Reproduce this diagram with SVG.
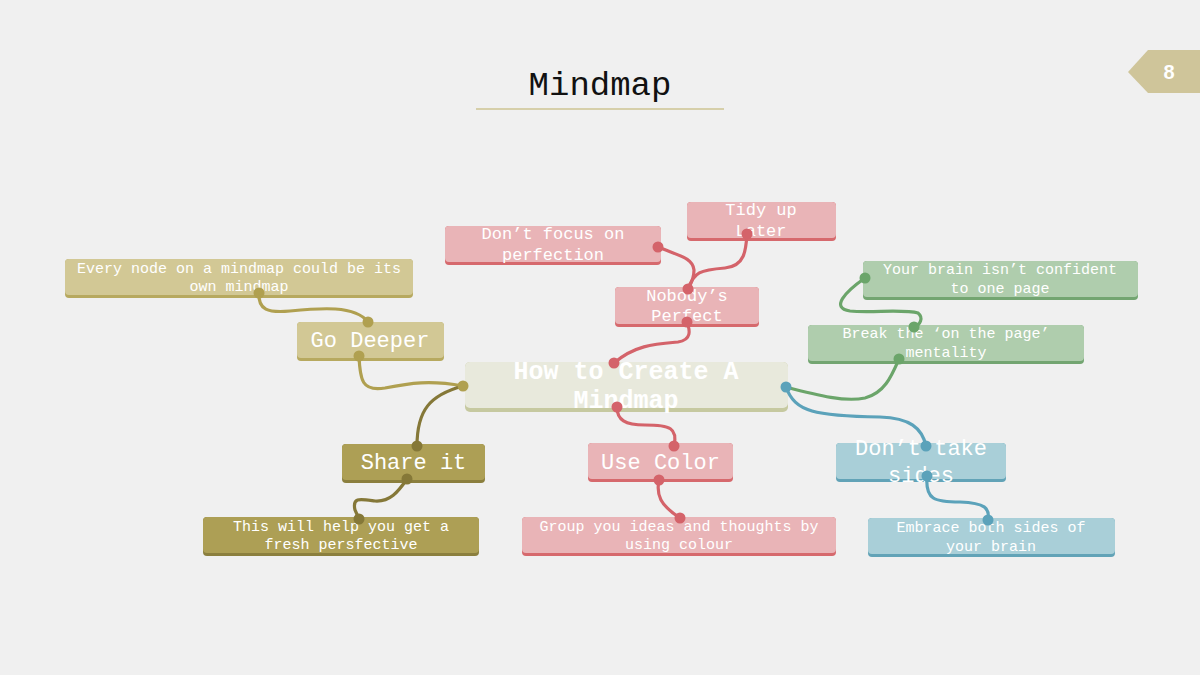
<svg xmlns="http://www.w3.org/2000/svg" width="1200" height="675" viewBox="0 0 1200 675">
<style>
text{font-family:"Liberation Mono","DejaVu Sans Mono",monospace;fill:#ffffff;text-anchor:middle}
.s{font-size:15px}
.m{font-size:17px}
.l{font-size:22px}
.c{font-size:25px;font-weight:bold}
.pinkB{fill:#d6696d}.pinkF{fill:#e9b4b7}
.oliveB{fill:#b7a95f}.oliveF{fill:#d2c895}
.darkB{fill:#8b7f3e}.darkF{fill:#ad9f55}
.greenB{fill:#73a571}.greenF{fill:#afcdad}
.blueB{fill:#62a3b7}.blueF{fill:#a9cfd8}
.centB{fill:#c6c9a0}.centF{fill:#e8e9dc}
.ln{fill:none;stroke-width:3.2;stroke-linecap:round}
.red{stroke:#d4636a}.redd{fill:#d4636a}
.ol{stroke:#b0a050}.old{fill:#b0a050}
.dk{stroke:#857838}.dkd{fill:#857838}
.gr{stroke:#6ba56a}.grd{fill:#6ba56a}
.bl{stroke:#5ba2ba}.bld{fill:#5ba2ba}
</style>
<rect x="0" y="0" width="1200" height="675" fill="#f0f0f0"/>
<g id="title">
<text x="600" y="95" style="font-size:34px;fill:#111111">Mindmap</text>
<line x1="476" y1="109" x2="724" y2="109" stroke="#d6cfaa" stroke-width="2"/>
</g>
<g id="page-number">
<polygon points="1148,50 1200,50 1200,93 1148,93 1128,72" fill="#cfc59a"/>
<text x="1169" y="79" style="font-family:'Liberation Sans',Arial,sans-serif;font-size:20px;font-weight:bold">8</text>
</g>

<g id="node-center">
<rect x="465" y="362" width="323" height="50" rx="5" class="centB"/>
<rect x="465" y="362" width="323" height="46" rx="5" class="centF"/>
<text class="c" x="626" y="379">How to Create A</text>
<text class="c" x="626" y="408">Mindmap</text>
</g>
<g id="node-tidy">
<rect x="687" y="202" width="149" height="39" rx="4" class="pinkB"/>
<rect x="687" y="202" width="149" height="36" rx="4" class="pinkF"/>
<text class="m" x="761" y="215">Tidy up</text>
<text class="m" x="761" y="236">Later</text>
</g>
<g id="node-focus">
<rect x="445" y="226" width="216" height="39" rx="4" class="pinkB"/>
<rect x="445" y="226" width="216" height="36" rx="4" class="pinkF"/>
<text class="m" x="553" y="239">Don’t focus on</text>
<text class="m" x="553" y="260">perfection</text>
</g>
<g id="node-nobody">
<rect x="615" y="287" width="144" height="40" rx="4" class="pinkB"/>
<rect x="615" y="287" width="144" height="37" rx="4" class="pinkF"/>
<text class="m" x="687" y="301">Nobody’s</text>
<text class="m" x="687" y="321">Perfect</text>
</g>
<g id="node-usecolor">
<rect x="588" y="443" width="145" height="39" rx="4" class="pinkB"/>
<rect x="588" y="443" width="145" height="36" rx="4" class="pinkF"/>
<text class="l" x="660.5" y="469">Use Color</text>
</g>
<g id="node-group">
<rect x="522" y="517" width="314" height="39" rx="4" class="pinkB"/>
<rect x="522" y="517" width="314" height="36" rx="4" class="pinkF"/>
<text class="s" x="679" y="531">Group you ideas and thoughts by</text>
<text class="s" x="679" y="549">using colour</text>
</g>
<g id="node-godeeper">
<rect x="297" y="322" width="147" height="39" rx="4" class="oliveB"/>
<rect x="297" y="322" width="147" height="36" rx="4" class="oliveF"/>
<text class="l" x="370" y="347">Go Deeper</text>
</g>
<g id="node-everynode">
<rect x="65" y="259" width="348" height="39" rx="4" class="oliveB"/>
<rect x="65" y="259" width="348" height="36" rx="4" class="oliveF"/>
<text class="s" x="239" y="273">Every node on a mindmap could be its</text>
<text class="s" x="239" y="291">own mindmap</text>
</g>
<g id="node-share">
<rect x="342" y="444" width="143" height="39" rx="4" class="darkB"/>
<rect x="342" y="444" width="143" height="36" rx="4" class="darkF"/>
<text class="l" x="413.5" y="469">Share it</text>
</g>
<g id="node-thiswill">
<rect x="203" y="517" width="276" height="39" rx="4" class="darkB"/>
<rect x="203" y="517" width="276" height="36" rx="4" class="darkF"/>
<text class="s" x="341" y="531">This will help you get a</text>
<text class="s" x="341" y="549">fresh persfective</text>
</g>
<g id="node-yourbrain">
<rect x="863" y="261" width="275" height="39" rx="4" class="greenB"/>
<rect x="863" y="261" width="275" height="36" rx="4" class="greenF"/>
<text class="s" x="1000" y="274">Your brain isn’t confident</text>
<text class="s" x="1000" y="293">to one page</text>
</g>
<g id="node-break">
<rect x="808" y="325" width="276" height="39" rx="4" class="greenB"/>
<rect x="808" y="325" width="276" height="36" rx="4" class="greenF"/>
<text class="s" x="946" y="338">Break the ‘on the page’</text>
<text class="s" x="946" y="357">mentality</text>
</g>
<g id="node-donttake">
<rect x="836" y="443" width="170" height="39" rx="4" class="blueB"/>
<rect x="836" y="443" width="170" height="36" rx="4" class="blueF"/>
<text class="l" x="921" y="455">Don’t take</text>
<text class="l" x="921" y="482">sides</text>
</g>
<g id="node-embrace">
<rect x="868" y="518" width="247" height="39" rx="4" class="blueB"/>
<rect x="868" y="518" width="247" height="36" rx="4" class="blueF"/>
<text class="s" x="991" y="532">Embrace both sides of</text>
<text class="s" x="991" y="551">your brain</text>
</g>

<g id="connectors">
<path class="ln red" d="M614,363 C635,345 655,344 678,342 C692,340 690,330 687,322"/>
<circle class="redd" cx="614" cy="363" r="5.5"/><circle class="redd" cx="687" cy="322" r="5.5"/>
<path class="ln red" d="M688,289 C694,272 700,270 725,268 C745,266 746,250 747,234"/>
<circle class="redd" cx="688" cy="289" r="5.5"/><circle class="redd" cx="747" cy="234" r="5.5"/>
<path class="ln red" d="M658,247 C680,256 693,258 694,270 C694,280 690,285 688,289"/>
<circle class="redd" cx="658" cy="247" r="5.5"/>
<path class="ln red" d="M617,407 C617,420 625,425 645,425 C670,425 678,428 674,446"/>
<circle class="redd" cx="617" cy="407" r="5.5"/><circle class="redd" cx="674" cy="446" r="5.5"/>
<path class="ln red" d="M659,480 C656,495 660,505 680,518"/>
<circle class="redd" cx="659" cy="480" r="5.5"/><circle class="redd" cx="680" cy="518" r="5.5"/>

<path class="ln ol" d="M359,356 C360,380 362,392 385,388 C410,383 430,380 463,386"/>
<circle class="old" cx="359" cy="356" r="5.5"/>
<path class="ln ol" d="M259,293 C258,310 268,313 290,311 C320,308 355,305 368,322"/>
<circle class="old" cx="259" cy="293" r="5.5"/><circle class="old" cx="368" cy="322" r="5.5"/>
<path class="ln dk" d="M463,386 C430,395 417,410 417,446"/>
<circle class="old" cx="463" cy="386" r="5.5"/><circle class="dkd" cx="417" cy="446" r="5.5"/>
<path class="ln dk" d="M407,479 C398,492 390,502 375,501 C360,499 352,497 355,510 L359,519"/>
<circle class="dkd" cx="407" cy="479" r="5.5"/><circle class="dkd" cx="359" cy="519" r="5.5"/>

<path class="ln gr" d="M786,387 C820,396 845,402 865,398 C885,393 892,375 899,359"/>
<circle class="grd" cx="899" cy="359" r="5.5"/>
<path class="ln gr" d="M865,278 C845,292 830,308 850,311 C870,313 905,309 918,313 C924,318 920,325 914,327"/>
<circle class="grd" cx="865" cy="278" r="5.5"/><circle class="grd" cx="914" cy="327" r="5.5"/>
<path class="ln bl" d="M786,387 C795,412 815,416 880,417 C910,418 922,428 926,446"/>
<circle class="bld" cx="786" cy="387" r="5.5"/><circle class="bld" cx="926" cy="446" r="5.5"/>
<path class="ln bl" d="M927,476 C925,500 935,502 960,502 C985,503 990,508 988,520"/>
<circle class="bld" cx="927" cy="476" r="5.5"/><circle class="bld" cx="988" cy="520" r="5.5"/>
</g>
</svg>
